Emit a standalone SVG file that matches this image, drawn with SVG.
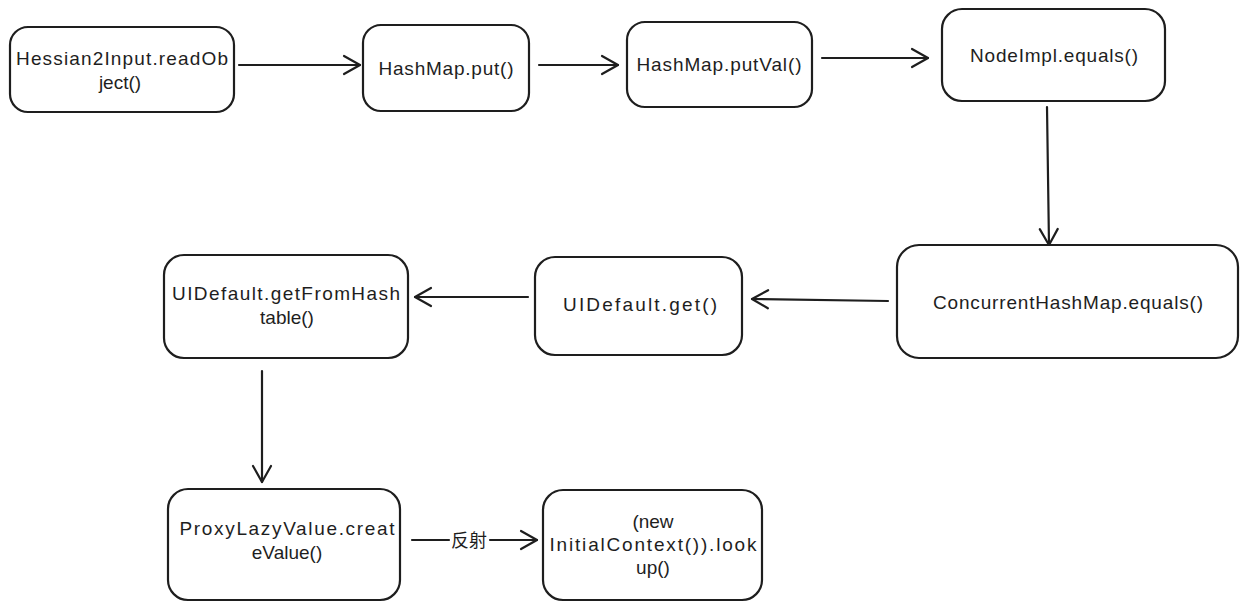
<svg xmlns="http://www.w3.org/2000/svg" width="1248" height="612" viewBox="0 0 1248 612">
<defs>
<style>
.box{fill:#fff;stroke:#1e1e1e;stroke-width:2.2}
.t{font-family:"Liberation Sans","Noto Sans CJK SC",sans-serif;font-size:19px;fill:#1e1e1e;text-anchor:middle;dominant-baseline:central}
.c{stroke:#1e1e1e;stroke-width:2.2;fill:none;stroke-linecap:round}
.lbl{font-family:"Noto Sans CJK SC","Liberation Sans",sans-serif;font-size:18px;fill:#1e1e1e;text-anchor:middle;dominant-baseline:central}
</style>
<marker id="arr" viewBox="-20 -12 24 24" markerWidth="24" markerHeight="24" refX="0" refY="0" orient="auto" markerUnits="userSpaceOnUse">
<path d="M -16 -9 L 0 0 L -16 9" fill="none" stroke="#1e1e1e" stroke-width="2.2" stroke-linecap="round" stroke-linejoin="round"/>
</marker>
</defs>
<rect width="1248" height="612" fill="#fff"/>
<g id="connectors">
<line class="c" x1="239" y1="65" x2="360" y2="65" marker-end="url(#arr)"/>
<line class="c" x1="539" y1="65" x2="618" y2="65" marker-end="url(#arr)"/>
<line class="c" x1="822" y1="58" x2="928" y2="58" marker-end="url(#arr)"/>
<line class="c" x1="1047" y1="107" x2="1049" y2="245" marker-end="url(#arr)"/>
<line class="c" x1="888" y1="301" x2="752" y2="299" marker-end="url(#arr)"/>
<line class="c" x1="528" y1="297" x2="415" y2="297" marker-end="url(#arr)"/>
<line class="c" x1="262" y1="371" x2="262" y2="482" marker-end="url(#arr)"/>
<line class="c" x1="412" y1="540" x2="449" y2="540"/>
<line class="c" x1="490" y1="540" x2="537" y2="540" marker-end="url(#arr)"/>
<text class="lbl" x="469" y="539">反射</text>
</g>
<g id="n1">
<rect class="box" x="10" y="27" width="224" height="85" rx="18"/>
<text class="t" x="122" y="58" textLength="212" lengthAdjust="spacing">Hessian2Input.readOb</text>
<text class="t" x="120" y="82">ject()</text>
</g>
<g id="n2">
<rect class="box" x="363" y="25" width="166" height="86" rx="18"/>
<text class="t" x="446" y="68" textLength="135" lengthAdjust="spacing">HashMap.put()</text>
</g>
<g id="n3">
<rect class="box" x="627" y="22" width="185" height="85" rx="18"/>
<text class="t" x="719" y="64" textLength="165" lengthAdjust="spacing">HashMap.putVal()</text>
</g>
<g id="n4">
<rect class="box" x="942" y="9" width="223" height="92" rx="20"/>
<text class="t" x="1054" y="55" textLength="168" lengthAdjust="spacing">NodeImpl.equals()</text>
</g>
<g id="n5">
<rect class="box" x="897" y="245" width="341" height="113" rx="22"/>
<text class="t" x="1068" y="302" textLength="270" lengthAdjust="spacing">ConcurrentHashMap.equals()</text>
</g>
<g id="n6">
<rect class="box" x="535" y="257" width="207" height="98" rx="20"/>
<text class="t" x="640" y="304" textLength="154" lengthAdjust="spacing">UIDefault.get()</text>
</g>
<g id="n7">
<rect class="box" x="164" y="255" width="244" height="103" rx="20"/>
<text class="t" x="286" y="293" textLength="228" lengthAdjust="spacing">UIDefault.getFromHash</text>
<text class="t" x="287" y="317">table()</text>
</g>
<g id="n8">
<rect class="box" x="168" y="489" width="232" height="111" rx="20"/>
<text class="t" x="287" y="528" textLength="215" lengthAdjust="spacing">ProxyLazyValue.creat</text>
<text class="t" x="287" y="552">eValue()</text>
</g>
<g id="n9">
<rect class="box" x="543" y="490" width="219" height="110" rx="20"/>
<text class="t" x="653" y="521">(new</text>
<text class="t" x="653" y="544" textLength="207" lengthAdjust="spacing">InitialContext()).look</text>
<text class="t" x="653" y="567">up()</text>
</g>
</svg>
